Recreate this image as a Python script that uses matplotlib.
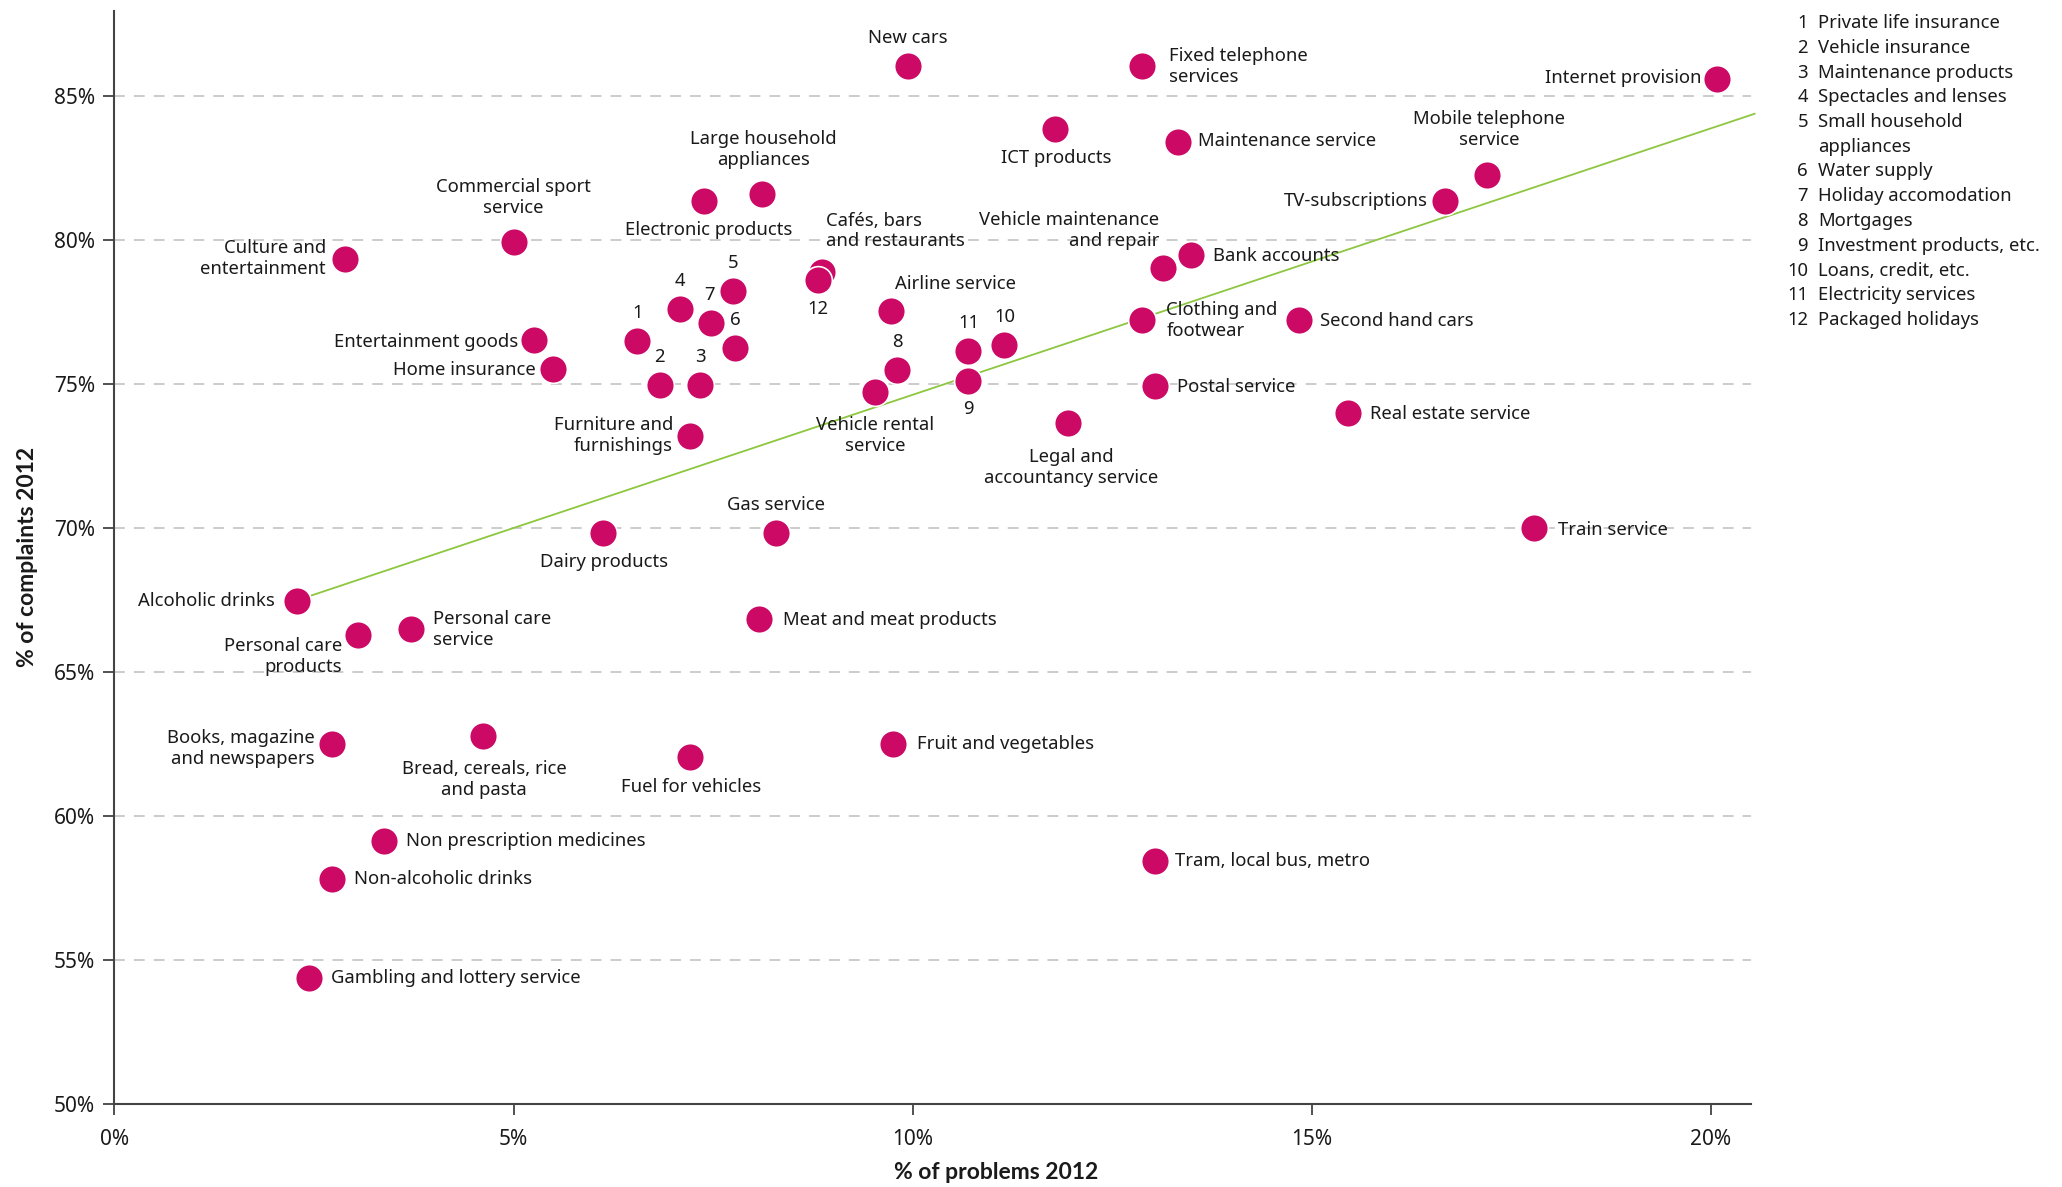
import matplotlib
matplotlib.use("Agg")
import matplotlib.pyplot as plt
import numpy as np

plt.rcParams['font.family'] = ['Noto Sans', 'DejaVu Sans']

# ---- data ----
names = [
    "New cars", "Fixed telephone\nservices", "Internet provision", "ICT products",
    "Maintenance service", "Mobile telephone\nservice", "TV-subscriptions",
    "Large household\nappliances", "Electronic products", "Commercial sport\nservice",
    "Culture and\nentertainment", "Bank accounts", "Vehicle maintenance\nand repair",
    "Cafés, bars\nand restaurants", "12", "5", "4", "Airline service", "7",
    "Clothing and\nfootwear", "Second hand cars", "Entertainment goods", "1", "6",
    "10", "11", "8", "Home insurance", "2", "3", "9", "Postal service",
    "Vehicle rental\nservice", "Real estate service", "Legal and\naccountancy service",
    "Furniture and\nfurnishings", "Dairy products", "Gas service", "Train service",
    "Alcoholic drinks", "Meat and meat products", "Personal care\nservice",
    "Personal care\nproducts", "Bread, cereals, rice\nand pasta",
    "Books, magazine\nand newspapers", "Fruit and vegetables", "Fuel for vehicles",
    "Non prescription medicines", "Tram, local bus, metro", "Non-alcoholic drinks",
    "Gambling and lottery service",
]
problems = [
    9.94, 12.88, 20.08, 11.79, 13.32, 17.20, 16.67, 8.11, 7.39, 5.00,
    2.89, 13.49, 13.14, 8.87, 8.82, 7.75, 7.09, 9.73, 7.47, 12.88,
    14.84, 5.26, 6.55, 7.78, 11.15, 10.70, 9.81, 5.49, 6.84, 7.34,
    10.70, 13.04, 9.53, 15.45, 11.95, 7.21, 6.12, 8.29, 17.79, 2.29,
    8.08, 3.71, 3.05, 4.62, 2.72, 9.76, 7.21, 3.38, 13.04, 2.72, 2.44,
]
complaints = [
    86.07, 86.07, 85.60, 83.88, 83.42, 82.28, 81.37, 81.60, 81.37, 79.96,
    79.37, 79.50, 79.05, 78.90, 78.64, 78.23, 77.63, 77.54, 77.13, 77.22,
    77.22, 76.54, 76.49, 76.27, 76.36, 76.17, 75.49, 75.54, 74.99, 74.99,
    75.13, 74.94, 74.72, 73.99, 73.67, 73.21, 69.84, 69.84, 70.02, 67.46,
    66.83, 66.51, 66.28, 62.77, 62.49, 62.49, 62.04, 59.12, 58.44, 57.80, 54.38,
]
# trend line
trend_slope = 0.9255
trend_intercept = 65.38
trend_x_end = 20.55

key_numbers = ["1", "2", "3", "4", "5", "", "6", "7", "8", "9", "10", "11", "12"]
key_labels = ["Private life insurance", "Vehicle insurance", "Maintenance products",
              "Spectacles and lenses", "Small household", "appliances", "Water supply",
              "Holiday accomodation", "Mortgages", "Investment products, etc.",
              "Loans, credit, etc.", "Electricity services", "Packaged holidays"]
x_ticks = [0, 5, 10, 15, 20]
y_ticks = [50, 55, 60, 65, 70, 75, 80, 85]

# ---- label placement (offset pixels, ha) ----
R, L, C = 'right', 'left', 'center'
place = {
    "New cars": (0, 28, C), "Fixed telephone\nservices": (27, -1, L),
    "Internet provision": (-16, 1, R), "ICT products": (1, -29, C),
    "Maintenance service": (20, 1, L), "Mobile telephone\nservice": (2, 45, C),
    "TV-subscriptions": (-17, 0, R), "Large household\nappliances": (2, 45, C),
    "Electronic products": (4, -29, C), "Commercial sport\nservice": (0, 44, C),
    "Culture and\nentertainment": (-19, 0, R), "Bank accounts": (22, -1, L),
    "Vehicle maintenance\nand repair": (-4, 37, R),
    "Cafés, bars\nand restaurants": (4, 41, L), "12": (0, -29, C), "5": (0, 28, C),
    "4": (0, 28, C), "Airline service": (4, 27, L), "7": (-1, 28, C),
    "Clothing and\nfootwear": (24, 0, L), "Second hand cars": (21, -1, L),
    "Entertainment goods": (-16, -2, R), "1": (0, 28, C), "6": (0, 28, C),
    "10": (0, 28, C), "11": (0, 28, C), "8": (0, 28, C),
    "Home insurance": (-17, -1, R), "2": (-1, 28, C), "3": (0, 28, C),
    "9": (0, -28, C), "Postal service": (22, -1, L),
    "Vehicle rental\nservice": (0, -43, C), "Real estate service": (22, -1, L),
    "Legal and\naccountancy service": (3, -45, C),
    "Furniture and\nfurnishings": (-17, 0, R), "Dairy products": (1, -29, C),
    "Gas service": (0, 28, C), "Train service": (24, -2, L),
    "Alcoholic drinks": (-22, 0, R), "Meat and meat products": (24, -1, L),
    "Personal care\nservice": (22, -1, L), "Personal care\nproducts": (-16, -21, R),
    "Bread, cereals, rice\nand pasta": (1, -43, C),
    "Books, magazine\nand newspapers": (-17, -4, R),
    "Fruit and vegetables": (24, 0, L), "Fuel for vehicles": (1, -30, C),
    "Non prescription medicines": (22, 0, L), "Tram, local bus, metro": (20, 0, L),
    "Non-alcoholic drinks": (22, 0, L), "Gambling and lottery service": (22, 0, L),
}

MAGENTA = '#cc0a66'
GREEN = '#8dc63f'
TXT = '#1a1a1a'

fig = plt.figure(figsize=(20.62, 11.87), dpi=100)
ax = fig.add_axes([0.0555, 0.070, 0.7935, 0.921])
ax.set_xlim(0, 20.5)
ax.set_ylim(50, 87.98)

for yt in y_ticks[1:]:
    ax.axhline(yt, color='#c8c8c8', lw=1.3, ls=(0, (6, 5)), zorder=0)

xs = np.array([min(problems), trend_x_end])
ax.plot(xs, trend_intercept + trend_slope * xs, color=GREEN, lw=1.3, zorder=1,
        clip_on=False)

ax.scatter(problems, complaints, s=400, color=MAGENTA, edgecolors='white',
           linewidths=1.2, zorder=3)

fs = 13.3
for n, x, y in zip(names, problems, complaints):
    dx, dy, ha = place[n]
    ax.annotate(n, (x, y), xytext=(dx, dy), textcoords='offset pixels',
                ha=ha, va='center', ma=ha if ha != C else 'center',
                fontsize=fs, color=TXT, linespacing=1.2, zorder=4)

ax.set_xticks(x_ticks)
ax.set_xticklabels([f"{t}%" for t in x_ticks])
ax.set_yticks(y_ticks)
ax.set_yticklabels([f"{t}%" for t in y_ticks])
ax.tick_params(axis='both', labelsize=15, color='#333333', length=8, width=1.2,
               labelcolor=TXT)
ax.tick_params(axis='x', pad=10)
ax.tick_params(axis='y', pad=6)
for s in ['top', 'right']:
    ax.spines[s].set_visible(False)
for s in ['left', 'bottom']:
    ax.spines[s].set_color('#444444')
    ax.spines[s].set_linewidth(1.5)

ax.set_xlabel("% of problems 2012", fontsize=16.5, fontweight='bold', labelpad=9,
              color=TXT, family=['Lato', 'DejaVu Sans'], x=0.539)
ax.set_ylabel("% of complaints 2012", fontsize=16.5, fontweight='bold', labelpad=11,
              color=TXT, family=['Lato', 'DejaVu Sans'])

# key list
y0 = 1 - 23 / 1187
dy = 24.75 / 1187
for i, (num, lab) in enumerate(zip(key_numbers, key_labels)):
    yy = y0 - i * dy
    fig.text(1808 / 2062, yy, num, ha='right', va='center', fontsize=fs, color=TXT)
    fig.text(1818 / 2062, yy, lab, ha='left', va='center', fontsize=fs, color=TXT)

fig.savefig("out.png", dpi=100)
